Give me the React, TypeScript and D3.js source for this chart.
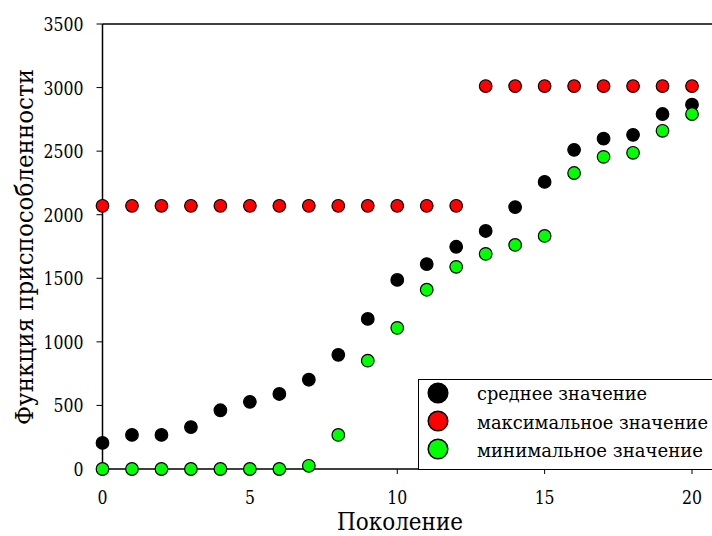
import { useEffect, useRef } from 'react';
import * as d3 from 'd3';

const generations = d3.range(0, 21);
const meanValues = [205, 268, 268, 330, 462, 528, 590, 702, 898, 1180, 1487, 1612, 1748, 1872, 2060, 2258, 2510, 2598, 2628, 2792, 2865];
const maxValues = [2070, 2070, 2070, 2070, 2070, 2070, 2070, 2070, 2070, 2070, 2070, 2070, 2070, 3012, 3012, 3012, 3012, 3012, 3012, 3012, 3012];
const minValues = [0, 0, 0, 0, 0, 0, 0, 25, 268, 852, 1110, 1410, 1590, 1692, 1762, 1833, 2328, 2455, 2487, 2660, 2792];
const xTicks = [0, 5, 10, 15, 20];
const yTicks = [0, 500, 1000, 1500, 2000, 2500, 3000, 3500];

const series = [
  { name: 'среднее значение', values: meanValues, color: '#000000', len: 170 },
  { name: 'максимальное значение', values: maxValues, color: '#ff0000', len: 231 },
  { name: 'минимальное значение', values: minValues, color: '#00ff00', len: 226 },
];

const W = 712;
const H = 536;
const FONT = "'DejaVu Serif', serif";

export default function App() {
  const svgRef = useRef<SVGSVGElement>(null);

  useEffect(() => {
    const svg = d3.select(svgRef.current);
    svg.selectAll('*').remove();

    const x = d3.scaleLinear().domain([0, 20]).range([102.5, 692]);
    const y = d3.scaleLinear().domain([0, 3500]).range([469, 24]);

    // top frame line
    svg.append('line')
      .attr('x1', x(0)).attr('x2', W)
      .attr('y1', y(3500)).attr('y2', y(3500))
      .attr('stroke', '#000').attr('stroke-width', 1.5);

    // x axis
    const xAxis = svg.append('g')
      .attr('transform', `translate(0,${y(0)})`);
    xAxis.append('line')
      .attr('x1', x(0)).attr('x2', W)
      .attr('stroke', '#000').attr('stroke-width', 1.5);
    xAxis.selectAll('.xt')
      .data(xTicks.filter(d => d > 0))
      .join('line')
      .attr('x1', d => x(d)).attr('x2', d => x(d))
      .attr('y1', 0).attr('y2', 5)
      .attr('stroke', '#000').attr('stroke-width', 1);
    xAxis.selectAll('.xl')
      .data(xTicks)
      .join('text')
      .attr('x', d => x(d))
      .attr('y', 35)
      .attr('text-anchor', 'middle')
      .style('font-family', FONT)
      .style('font-size', '18px')
      .attr('textLength', d => String(d).length * 10)
      .attr('lengthAdjust', 'spacingAndGlyphs')
      .text(d => d);

    // y axis
    const yAxis = svg.append('g').attr('transform', `translate(${x(0)},0)`);
    yAxis.append('line')
      .attr('y1', y(0)).attr('y2', y(3500))
      .attr('stroke', '#000').attr('stroke-width', 1.5);
    yAxis.selectAll('.yt')
      .data(yTicks)
      .join('line')
      .attr('x1', -6).attr('x2', 0)
      .attr('y1', d => y(d)).attr('y2', d => y(d))
      .attr('stroke', '#000').attr('stroke-width', 1);
    yAxis.selectAll('.yl')
      .data(yTicks)
      .join('text')
      .attr('x', -19)
      .attr('y', d => y(d) + 7)
      .attr('text-anchor', 'end')
      .style('font-family', FONT)
      .style('font-size', '18px')
      .attr('textLength', d => String(d).length * 10)
      .attr('lengthAdjust', 'spacingAndGlyphs')
      .text(d => d);

    // axis titles
    svg.append('text')
      .attr('x', 400).attr('y', 530)
      .attr('text-anchor', 'middle')
      .style('font-family', FONT)
      .style('font-size', '24px')
      .attr('textLength', 126)
      .attr('lengthAdjust', 'spacingAndGlyphs')
      .text('Поколение');
    svg.append('text')
      .attr('transform', `translate(33,425) rotate(-90)`)
      .style('font-family', FONT)
      .style('font-size', '25px')
      .attr('textLength', 356)
      .attr('lengthAdjust', 'spacingAndGlyphs')
      .text('Функция приспособленности');

    // points
    series.forEach(s => {
      svg.append('g').selectAll('circle')
        .data(generations)
        .join('circle')
        .attr('cx', d => x(d))
        .attr('cy', d => y(s.values[d]))
        .attr('r', 6.3)
        .attr('fill', s.color)
        .attr('stroke', '#000')
        .attr('stroke-width', 1.2);
    });

    // legend
    const lg = svg.append('g').attr('transform', 'translate(418,379)');
    lg.append('rect')
      .attr('x', 0.5).attr('y', 0.5)
      .attr('width', 300).attr('height', 90)
      .attr('fill', '#fff')
      .attr('stroke', '#000').attr('stroke-width', 1);
    series.forEach((s, i) => {
      lg.append('circle')
        .attr('cx', 20).attr('cy', 14 + i * 28)
        .attr('r', 9.8)
        .attr('fill', s.color)
        .attr('stroke', '#000').attr('stroke-width', 1.5);
      lg.append('text')
        .attr('x', 59).attr('y', 21 + i * 28.5)
        .style('font-family', FONT)
        .style('font-size', '18px')
        .attr('textLength', s.len)
        .attr('lengthAdjust', 'spacingAndGlyphs')
        .text(s.name);
    });
  }, []);

  return (
    <svg
      ref={svgRef}
      width={W}
      height={H}
      style={{ position: 'absolute', left: 0, top: 0, background: '#fff' }}
    />
  );
}
